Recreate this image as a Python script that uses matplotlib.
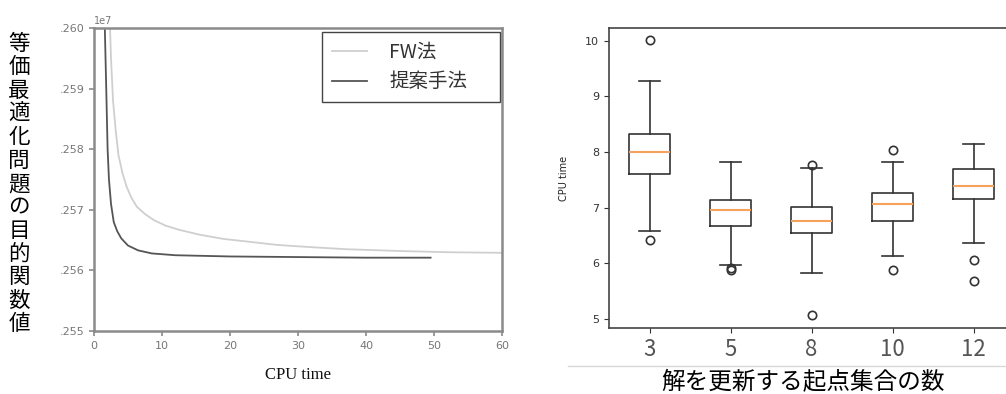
import matplotlib
matplotlib.use("Agg")
import matplotlib.pyplot as plt
from matplotlib.lines import Line2D

plt.rcParams['font.family'] = ['DejaVu Sans', 'Noto Sans CJK JP']

# ---- left chart data (objective value, units of 1e7) ----
fw_x = [2.3, 2.5, 2.8, 3.2, 3.6, 4.2, 4.8, 5.5, 6.3, 7.5, 8.8, 10.5, 12.5, 15.5,
        19, 23, 27, 31, 37, 45, 52, 60]
fw_y = [1.2602, 1.2595, 1.2588, 1.2583, 1.2579, 1.2576, 1.25738, 1.2572, 1.25705,
        1.25693, 1.25683, 1.25674, 1.25667, 1.25659, 1.25652, 1.25647, 1.25642,
        1.25639, 1.25635, 1.25632, 1.2563, 1.25629]
prop_x = [1.55, 1.8, 2.0, 2.2, 2.5, 2.9, 3.4, 4.0, 5.0, 6.5, 8.5, 12, 20, 30, 40, 49.5]
prop_y = [1.2602, 1.2590, 1.2580, 1.2575, 1.2571, 1.2568, 1.25665, 1.25653, 1.25641,
          1.25633, 1.25628, 1.25625, 1.25623, 1.25622, 1.25621, 1.25621]
left_yticks = [1.255, 1.256, 1.257, 1.258, 1.259, 1.260]
left_yticklabels = ['.255', '.256', '.257', '.258', '.259', '.260']
left_xticks = [0, 10, 20, 30, 40, 50, 60]
series_names = ['FW法', '提案手法']
left_ylabel = '等価最適化問題の目的関数値'

# ---- right chart data (box plot stats) ----
groups = ['3', '5', '8', '10', '12']
whislo = [6.58, 5.98, 5.82, 6.13, 6.37]
q1 = [7.60, 6.67, 6.54, 6.77, 7.15]
med = [8.01, 6.96, 6.77, 7.07, 7.39]
q3 = [8.32, 7.14, 7.01, 7.27, 7.69]
whishi = [9.27, 7.83, 7.71, 7.83, 8.14]
fliers = [[10.01, 6.42], [5.92, 5.88], [7.76, 5.08], [8.04, 5.89], [6.07, 5.69]]
right_yticks = [5, 6, 7, 8, 9, 10]
right_xlabel = '解を更新する起点集合の数'

W, H = 1006, 394
fig = plt.figure(figsize=(W / 100, H / 100), dpi=100)

# ================= left chart =================
axL = fig.add_axes([94 / W, (H - 331) / H, 408 / W, 303 / H])
axL.plot(fw_x, fw_y, color='#cfcfcf', lw=1.3, label=series_names[0])
axL.plot(prop_x, prop_y, color='#555555', lw=1.3, label=series_names[1])
axL.set_xlim(0, 60)
axL.set_ylim(1.255, 1.260)
axL.set_xticks(left_xticks)
axL.set_yticks(left_yticks)
axL.set_yticklabels(left_yticklabels)
for s in axL.spines.values():
    s.set_color('#8a8a8a')
    s.set_linewidth(1.8)
axL.tick_params(colors='#8a8a8a', labelcolor='#777777', labelsize=8, width=1.2, length=3.5)
axL.text(0.0, 1.005, '1e7', transform=axL.transAxes, fontsize=7, color='#777777',
         ha='left', va='bottom')
leg = axL.legend(loc='upper left', bbox_to_anchor=(0.559, 0.0, 0.436, 0.987),
                 mode='expand', frameon=True, fancybox=False, edgecolor='#444444',
                 framealpha=1, handlelength=1.8, borderpad=0.5, labelspacing=0.45,
                 handletextpad=1.15, borderaxespad=0.0,
                 prop={'family': ['Noto Sans CJK JP'], 'size': 14})
leg.get_frame().set_linewidth(1.0)
for t in leg.get_texts():
    t.set_color('#333333')
axL.set_xlabel('CPU time', family='Liberation Serif', fontsize=12, labelpad=12, color='#111111')

fig.text(19 / W, 1 - 184 / H, '\n'.join(left_ylabel), family=['Noto Sans CJK JP'],
         fontsize=15.5, ha='center', va='center', linespacing=1.08, color='black')

# ================= right chart =================
axR = fig.add_axes([609 / W, (H - 328) / H, 405 / W, 300 / H])
stats = []
for i, g in enumerate(groups):
    stats.append(dict(label=g, whislo=whislo[i], q1=q1[i], med=med[i], q3=q3[i],
                      whishi=whishi[i], fliers=fliers[i]))
axR.bxp(stats, positions=range(1, len(groups) + 1), widths=0.5,
        boxprops=dict(color='#333333', lw=1.2),
        whiskerprops=dict(color='#333333', lw=1.2),
        capprops=dict(color='#333333', lw=1.2),
        medianprops=dict(color='#f7a25a', lw=1.5),
        flierprops=dict(marker='o', markerfacecolor='none', markeredgecolor='#333333',
                        markersize=6, markeredgewidth=1.2))
axR.set_xlim(0.5, 5.5)
axR.set_ylim(4.84, 10.23)
axR.set_yticks(right_yticks)
axR.tick_params(axis='y', labelsize=8, colors='#333333')
axR.tick_params(axis='x', labelsize=16, colors='#333333', labelcolor='#555555', pad=4)
for lab in axR.get_xticklabels():
    lab.set_family(['Noto Sans CJK JP'])
for s in axR.spines.values():
    s.set_color('#444444')
    s.set_linewidth(1.2)
axR.set_ylabel('CPU time', fontsize=7, color='#222222', labelpad=12)

fig.add_artist(Line2D([568 / W, 1.0], [1 - 366 / H, 1 - 366 / H],
                      transform=fig.transFigure, color='#d8d8d8', lw=1.0))
fig.text(803 / W, 1 - 382 / H, right_xlabel, family=['Noto Sans CJK JP'], fontsize=17,
         ha='center', va='center', color='black')

fig.savefig('out.png', dpi=100)
